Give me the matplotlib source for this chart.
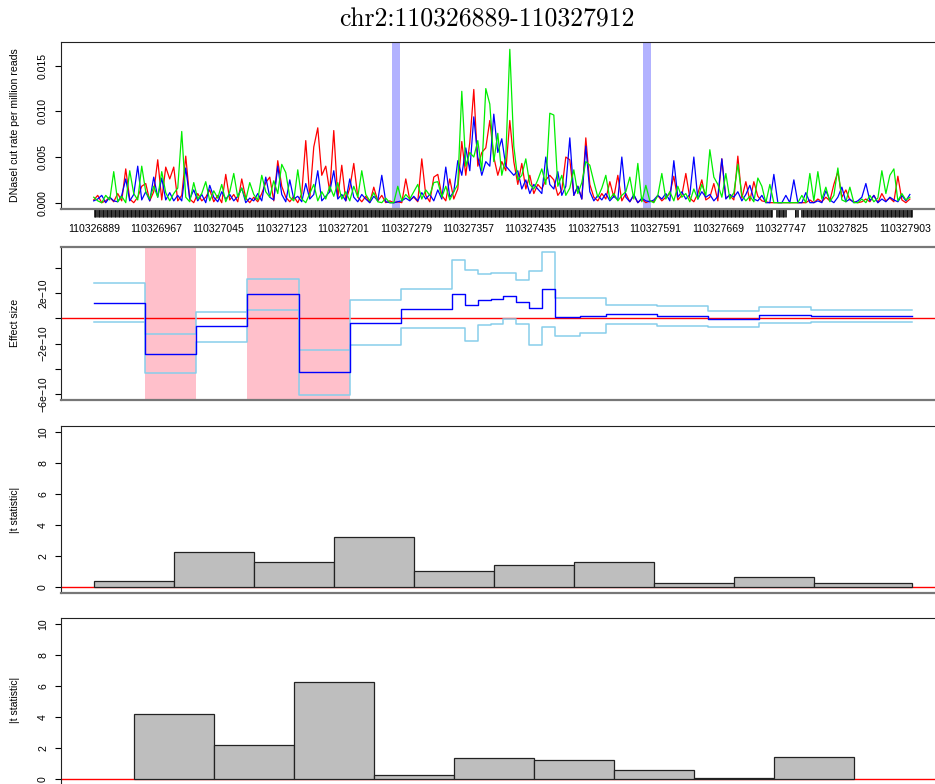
import matplotlib
matplotlib.use("Agg")
import matplotlib.pyplot as plt
import numpy as np

START = 110326889
END = 110327912
STEP = 5  # bp between cut-rate samples

# DNaseI cut rate per million reads, units of 1e-4, one value every 5 bp
red_cuts = [3, 8, 0, 2, 6, 1, 10, 2, 37, 4, 0, 6, 18, 21, 2, 12, 47, 3, 39, 26,
            39, 2, 8, 51, 4, 0, 10, 2, 6, 14, 1, 8, 0, 31, 3, 9, 1, 26, 5, 0,
            6, 1, 10, 22, 28, 2, 46, 18, 6, 1, 7, 0, 10, 68, 5, 61, 82, 30, 40, 12,
            79, 5, 41, 2, 16, 43, 6, 1, 7, 0, 17, 2, 8, 0, 2, 0, 1, 0, 26, 3,
            6, 1, 48, 8, 1, 28, 31, 8, 2, 26, 4, 15, 67, 30, 66, 124, 40, 55, 60, 90,
            50, 30, 45, 35, 90, 45, 20, 43, 15, 30, 10, 20, 15, 25, 30, 25, 8, 14, 50, 47,
            8, 18, 4, 71, 20, 6, 2, 10, 4, 23, 6, 30, 2, 10, 1, 8, 0, 4, 0, 2,
            1, 8, 2, 6, 10, 29, 3, 8, 32, 5, 1, 10, 25, 3, 6, 21, 2, 48, 5, 8,
            3, 51, 5, 23, 2, 23, 7, 2, 1, 0, 0, 0, 0, 0, 0, 0, 0, 0, 0, 3,
            0, 4, 1, 6, 2, 20, 34, 6, 14, 3, 1, 0, 1, 4, 1, 8, 0, 10, 2, 5,
            1, 29, 3, 0, 4]
blue_cuts = [2, 4, 8, 0, 6, 2, 1, 8, 26, 2, 9, 40, 3, 12, 2, 28, 6, 27, 3, 11,
             2, 8, 2, 38, 4, 14, 2, 9, 0, 19, 6, 1, 12, 4, 9, 2, 7, 16, 0, 5,
             2, 10, 2, 28, 6, 3, 40, 9, 1, 25, 4, 7, 1, 21, 4, 9, 35, 2, 7, 12,
             35, 4, 9, 2, 26, 6, 1, 9, 4, 0, 7, 2, 30, 1, 0, 0, 1, 2, 5, 2,
             7, 2, 11, 4, 9, 2, 14, 4, 39, 6, 12, 46, 30, 60, 35, 94, 50, 30, 45, 40,
             97, 55, 70, 40, 35, 30, 35, 15, 25, 10, 20, 15, 10, 50, 20, 15, 34, 8, 18, 71,
             8, 18, 4, 62, 12, 2, 8, 3, 10, 2, 7, 3, 50, 6, 1, 9, 0, 5, 2, 1,
             3, 8, 4, 10, 2, 46, 6, 12, 4, 9, 50, 4, 12, 6, 9, 2, 7, 48, 4, 9,
             6, 12, 2, 9, 19, 4, 2, 8, 0, 0, 31, 0, 0, 8, 0, 25, 0, 0, 11, 0,
             0, 2, 0, 13, 3, 0, 6, 17, 1, 4, 0, 2, 6, 21, 2, 8, 0, 4, 1, 6,
             3, 1, 8, 2, 9]
green_cuts = [6, 2, 0, 8, 3, 34, 1, 7, 0, 35, 10, 3, 40, 12, 4, 18, 6, 34, 11, 2,
              10, 16, 78, 6, 1, 22, 4, 10, 23, 2, 13, 5, 20, 1, 12, 32, 6, 16, 3, 22,
              9, 3, 30, 12, 6, 24, 10, 42, 33, 6, 2, 36, 4, 0, 10, 20, 2, 12, 4, 18,
              7, 22, 4, 12, 2, 18, 6, 35, 9, 2, 11, 1, 0, 5, 0, 0, 18, 2, 9, 4,
              12, 20, 4, 14, 8, 22, 23, 6, 18, 3, 12, 20, 122, 40, 55, 50, 68, 35, 125, 108,
              45, 76, 30, 50, 168, 62, 25, 30, 48, 20, 15, 25, 37, 20, 98, 96, 18, 30, 8, 16,
              36, 10, 22, 45, 41, 23, 6, 16, 30, 4, 10, 2, 8, 12, 28, 4, 43, 1, 19, 2,
              0, 8, 32, 4, 12, 2, 18, 6, 10, 1, 15, 4, 20, 8, 58, 28, 20, 6, 32, 4,
              11, 42, 8, 2, 7, 1, 27, 18, 0, 20, 0, 0, 0, 0, 0, 0, 0, 8, 0, 32,
              2, 34, 4, 17, 1, 8, 38, 3, 1, 17, 0, 0, 4, 0, 8, 1, 5, 35, 10, 30,
              37, 2, 10, 3, 6]

# highlighted windows and rug gaps (bp from START)
blue_bands = [(373, 383), (686, 696)]
rug_gaps = [(849, 852), (866, 875), (881, 883)]

# effect size steps (bp from START), values in units of 1e-10
seg_edges = [0, 64, 128, 192, 256, 320, 384, 448, 464, 480, 496, 512, 528, 544,
             560, 576, 608, 640, 704, 768, 832, 896, 1023]
effect = [1.23, -2.82, -0.63, 1.89, -4.26, -0.35, 0.77, 1.94, 1.05, 1.47, 1.55,
          1.78, 1.26, 0.81, 2.29, 0.08, 0.18, 0.32, 0.18, -0.06, 0.24, 0.16]
upper = [2.76, -1.26, 0.52, 3.13, -2.53, 1.42, 2.34, 4.64, 3.85, 3.47, 3.55,
         3.55, 3.02, 3.73, 5.21, 1.58, 1.58, 1.03, 0.95, 0.60, 0.89, 0.63]
lower = [-0.29, -4.32, -1.87, 0.68, -6.08, -2.11, -0.79, -0.79, -1.77, -0.53, -0.43,
         -0.06, -0.47, -2.11, -0.66, -1.37, -1.18, -0.47, -0.58, -0.71, -0.35, -0.32]
pink_windows = [(64, 128), (192, 320)]

# |t statistic| per window
t1_edges = [0, 100, 200, 300, 400, 500, 600, 700, 800, 900, 1023]
t1_vals = [0.39, 2.23, 1.58, 3.20, 1.03, 1.40, 1.61, 0.25, 0.62, 0.25]
t2_edges = [50, 150, 250, 350, 450, 550, 650, 750, 850, 950]
t2_vals = [4.20, 2.22, 6.29, 0.26, 1.38, 1.21, 0.58, 0.08, 1.44]

plt.rcParams['font.family'] = ['Liberation Sans', 'DejaVu Sans']
plt.rcParams['font.size'] = 7.6

W, H = 935, 784
fig = plt.figure(figsize=(W / 100, H / 100), dpi=100)

def make_axes(top, bottom):
    # pixel box -> figure fraction; right edge runs past the image like the original
    ax = fig.add_axes([61 / W, 1 - bottom / H, 884 / W, (bottom - top) / H])
    ax.set_xlim(START - 40.9, END + 40.9)
    ax.tick_params(axis='y', labelrotation=90, length=4.3, width=0.8, pad=5)
    for s in ax.spines.values():
        s.set_linewidth(0.8)
        s.set_color('#222222')
    ax.spines['bottom'].set_color('#777777')
    ax.spines['bottom'].set_linewidth(1.6)
    return ax

# ---- panel 1: cut rates
ax1 = make_axes(42, 208.8)
pos = START + np.arange(0, 1024, STEP)
ax1.plot(pos, np.array(red_cuts) * 1e-4, color='red', lw=0.9)
ax1.plot(pos, np.array(blue_cuts) * 1e-4, color='blue', lw=0.9)
ax1.plot(pos, np.array(green_cuts) * 1e-4, color='#00ee00', lw=0.9)
for a, b in blue_bands:
    ax1.axvspan(START + a, START + b, color='blue', alpha=0.3, lw=0)
ax1.set_ylim(-0.00067, 0.0176)
ax1.set_yticks([0, 0.005, 0.010, 0.015])
ax1.set_yticklabels(['0.000', '0.005', '0.010', '0.015'], va='center')
xt = np.arange(START, END, 78)
ax1.set_xticks(xt)
ax1.set_xticklabels([str(v) for v in xt])
ax1.tick_params(axis='x', length=0, pad=11)
rug = np.arange(0, 1024)
keep = np.ones(len(rug), bool)
for a, b in rug_gaps:
    keep &= ~((rug >= a) & (rug <= b))
ax1.vlines(START + rug[keep], -0.048, 0, transform=ax1.get_xaxis_transform(),
           color='black', lw=0.55, clip_on=False)
fig.text(15 / W, 1 - 125 / H, 'DNaseI cut rate per million reads', rotation=90,
         ha='center', va='center')

# ---- panel 2: effect size
ax2 = make_axes(247, 400)
for a, b in pink_windows:
    ax2.axvspan(START + a, START + b, color='pink', lw=0)
ax2.axhline(0, color='red', lw=1.0)
edges = START + np.array(seg_edges)
ax2.step(edges, np.append(upper, upper[-1]) * 1e-10, where='post', color='skyblue', lw=1.1)
ax2.step(edges, np.append(lower, lower[-1]) * 1e-10, where='post', color='skyblue', lw=1.1)
ax2.step(edges, np.append(effect, effect[-1]) * 1e-10, where='post', color='blue', lw=1.0)
ax2.set_ylim(-6.45e-10, 5.63e-10)
ax2.set_yticks([4e-10, 2e-10, 0, -2e-10, -4e-10, -6e-10])
ax2.set_yticklabels(['', '2e\u221210', '', '\u22122e\u221210', '', '\u22126e\u221210'], va='center')
ax2.set_xticks([])
ax2.spines['top'].set_color('#777777')
ax2.spines['top'].set_linewidth(1.6)
fig.text(15 / W, 1 - 323 / H, 'Effect size', rotation=90, ha='center', va='center')

# ---- panels 3 and 4: |t statistic|
def t_panel(top, bottom, edges_bp, vals, label_y):
    ax = make_axes(top, bottom)
    ax.axhline(0, color='red', lw=1.0, zorder=1)
    e = np.array(edges_bp)
    if len(e) == len(vals):
        widths = np.full(len(vals), 100)
    else:
        widths = np.diff(e)
    ax.bar(START + e[:len(vals)], vals, width=widths, align='edge', color='#bebebe',
           edgecolor='#222222', lw=0.9, zorder=2)
    ax.set_ylim(-0.4, 10.4)
    ax.set_yticks([0, 2, 4, 6, 8, 10])
    ax.set_yticklabels(['0', '2', '4', '6', '8', '10'], va='center')
    ax.set_xticks([])
    fig.text(15 / W, 1 - label_y / H, '|t statistic|', rotation=90, ha='center', va='center')
    return ax

ax3 = t_panel(426.1, 592.8, t1_edges, t1_vals, 510)
ax4 = t_panel(618.1, 785.2, t2_edges, t2_vals, 700)

fig.text(487 / W, 1 - 20 / H, 'chr2:110326889-110327912', family='cmr10',
         fontsize=18.5, ha='center', va='center')

fig.savefig('out.png', dpi=100)
